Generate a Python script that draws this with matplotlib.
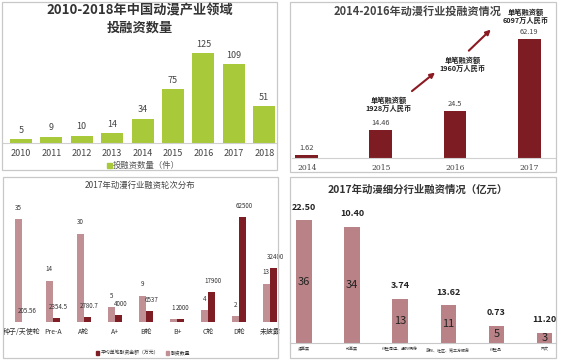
import matplotlib
matplotlib.use("Agg")
import matplotlib.pyplot as plt
from matplotlib.patches import Rectangle
import numpy as np

plt.rcParams['font.family'] = ['Noto Sans CJK SC', 'DejaVu Sans']

# panel 1: deals per year
years = ['2010', '2011', '2012', '2013', '2014', '2015', '2016', '2017', '2018']
deals = [5, 9, 10, 14, 34, 75, 125, 109, 51]

# panel 2: investment amount (亿元)
years2 = ['2014', '2015', '2016', '2017']
amount2 = [1.62, 14.46, 24.5, 62.19]
notes2 = ['单笔融资额\n1928万人民币', '单笔融资额\n1960万人民币', '单笔融资额\n6097万人民币']

# panel 3: rounds
rounds = ['种子/天使轮', 'Pre-A', 'A轮', 'A+', 'B轮', 'B+', 'C轮', 'D轮', '未披露']
round_count = [35, 14, 30, 5, 9, 1, 4, 2, 13]
round_avg = [205.56, 2354.5, 2780.7, 4000, 6537, 2000, 17900, 62500, 32400]

# panel 4: sub-sectors
sectors = ['漫画类', '动画类', '衍生周边、虚拟偶像', '游戏、社区、第三方服务', '衍生品', '网文']
sector_count = [36, 34, 13, 11, 5, 3]
sector_amt = ['22.50', '10.40', '3.74', '13.62', '0.73', '11.20']

W, H = 562, 362
fig = plt.figure(figsize=(W / 100, H / 100), dpi=100)


def ax_at(x0, y0, x1, y1):
    return fig.add_axes([x0 / W, 1 - y1 / H, (x1 - x0) / W, (y1 - y0) / H])


def frame(x0, y0, x1, y1):
    fig.patches.append(Rectangle((x0 / W, 1 - y1 / H), (x1 - x0) / W, (y1 - y0) / H,
                                 transform=fig.transFigure, fill=False,
                                 edgecolor='#c8c8c8', lw=0.9))


def clean(ax):
    for s in ['top', 'right', 'left']:
        ax.spines[s].set_visible(False)
    ax.set_yticks([])
    ax.tick_params(axis='x', length=0)


frame(2, 2, 277, 170)
frame(290, 2, 556, 172)
frame(3, 177, 278, 358)
frame(290, 177, 556, 358)

# ---- top-left
ax1 = ax_at(3, 40, 277, 143)
x = np.arange(len(years))
ax1.bar(x, deals, width=0.72, color='#a8c93a')
for i, v in enumerate(deals):
    ax1.text(i, v + 6, str(v), ha='center', va='bottom', fontsize=6.5, color='#444444')
ax1.set_xlim(-0.59, 8.42)
ax1.set_ylim(0, 143)
clean(ax1)
ax1.spines['bottom'].set_color('#d0d0d0')
ax1.set_xticks(x)
ax1.set_xticklabels(years, fontsize=6.5, color='#444444')
ax1.tick_params(axis='x', pad=4)
fig.text(140 / W, 1 - 19 / H, '2010-2018年中国动漫产业领域\n投融资数量', ha='center', va='center',
         fontsize=9.5, fontweight='bold', color='#333333', linespacing=1.3)
fig.patches.append(Rectangle((107 / W, 1 - 168 / H), 5 / W, 5 / H, transform=fig.transFigure,
                             color='#a8c93a'))
fig.text(113 / W, 1 - 165.5 / H, '投融资数量（件）', ha='left', va='center', fontsize=6,
         color='#555555')

# ---- top-right
ax2 = ax_at(292, 20, 555, 158)
x2 = np.arange(len(years2))
ax2.bar(x2, amount2, width=0.31, color='#7d1c22')
for i, v in enumerate(amount2):
    ax2.text(i, v + 1.6, str(v), ha='center', va='bottom', fontsize=5.3, color='#444444')
ax2.set_xlim(-0.2, 3.35)
ax2.set_ylim(0, 72)
clean(ax2)
ax2.spines['bottom'].set_color('#d0d0d0')
ax2.set_xticks(x2)
ax2.set_xticklabels(years2, fontsize=5.5, color='#444444', family='serif')
ax2.tick_params(axis='x', pad=4)
fig.text(418 / W, 1 - 11 / H, '2014-2016年动漫行业投融资情况', ha='center', va='center',
         fontsize=8, fontweight='bold', color='#444444')
note_pos = [(1.1, 28), (2.1, 49), (2.95, 73.8)]
for (nx, ny), t in zip(note_pos, notes2):
    ax2.text(nx, ny, t, ha='center', va='center', fontsize=5.2, fontweight='bold',
             style='italic', color='#222222', clip_on=False, linespacing=1.1)
ax2.annotate('', xy=(1.76, 45.5), xytext=(1.39, 34),
             arrowprops=dict(arrowstyle='-|>', color='#8b1a22', lw=1.5, mutation_scale=7))
ax2.annotate('', xy=(2.51, 68), xytext=(2.16, 55),
             arrowprops=dict(arrowstyle='-|>', color='#8b1a22', lw=1.5, mutation_scale=7),
             annotation_clip=False)

# ---- bottom-left
ax3 = ax_at(5, 195, 278, 322)
x3 = np.arange(len(rounds))
bw = 0.24
ax3.bar(x3 - bw / 2, round_count, width=bw, color='#c09094')
ax3.set_xlim(-0.55, 8.26)
ax3.set_ylim(0, 43.2)
clean(ax3)
ax3.spines['bottom'].set_visible(False)
ax3.set_xticks(x3)
ax3.set_xticklabels(rounds, fontsize=5, color='#333333')
ax3.tick_params(axis='x', pad=4)
ax3b = ax3.twinx()
ax3b.bar(x3 + bw / 2, round_avg, width=bw, color='#7f1d24')
ax3b.set_ylim(0, 75600)
for s in ax3b.spines.values():
    s.set_visible(False)
ax3b.set_yticks([])
for i, (c, a) in enumerate(zip(round_count, round_avg)):
    ax3.text(i - bw / 2, c + 2.5, str(c), ha='center', va='bottom', fontsize=4.5, color='#333333')
    ax3b.text(i + bw / 2 + 0.05, a + 4200, f'{a:g}', ha='center', va='bottom', fontsize=4.5,
              color='#333333')
fig.text(140 / W, 1 - 185 / H, '2017年动漫行业融资轮次分布', ha='center', va='center',
         fontsize=6, color='#444444')
fig.patches.append(Rectangle((96 / W, 1 - 355 / H), 3 / W, 4 / H, transform=fig.transFigure,
                             color='#7f1d24'))
fig.text(101 / W, 1 - 353 / H, '平均单笔融资金额（万元）', ha='left', va='center', fontsize=3.5,
         color='#333333')
fig.patches.append(Rectangle((166 / W, 1 - 355 / H), 3 / W, 4 / H, transform=fig.transFigure,
                             color='#c09094'))
fig.text(171 / W, 1 - 353 / H, '融资数量', ha='left', va='center', fontsize=3.5, color='#333333')

# ---- bottom-right
ax4 = ax_at(290, 200, 556, 343)
x4 = np.arange(len(sectors))
ax4.bar(x4, sector_count, width=0.32, color='#b98286')
for i, (c, a) in enumerate(zip(sector_count, sector_amt)):
    ax4.text(i, c / 2, str(c), ha='center', va='center', fontsize=8, color='#222222')
    ax4.text(i, c + 2.5, a, ha='center', va='bottom', fontsize=6.5, fontweight='bold',
             color='#222222')
ax4.set_xlim(-0.29, 5.24)
ax4.set_ylim(0, 41.9)
clean(ax4)
ax4.spines['bottom'].set_color('#c8c8c8')
ax4.set_xticks(x4)
ax4.set_xticklabels(sectors, fontsize=2.9, color='#333333')
ax4.tick_params(axis='x', pad=3)
fig.text(418 / W, 1 - 190 / H, '2017年动漫细分行业融资情况（亿元）', ha='center', va='center',
         fontsize=7.5, fontweight='bold', color='#333333')

fig.savefig('out.png', dpi=100)
